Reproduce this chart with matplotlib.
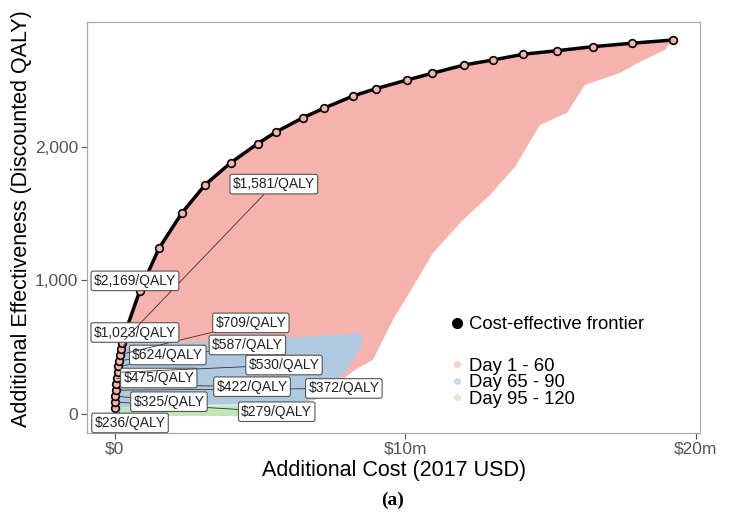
import matplotlib
matplotlib.use("Agg")
import matplotlib.pyplot as plt
from matplotlib.lines import Line2D

plt.rcParams['font.family'] = ['Liberation Sans', 'DejaVu Sans']

# cost-effective frontier ($m, QALY)
frontier_cost = [0.0, 0.01, 0.02, 0.035, 0.05, 0.07, 0.09, 0.11, 0.14, 0.17, 0.20, 0.23,
                 0.86, 1.52, 2.30, 3.10, 3.99, 4.91, 5.53, 6.48, 7.19, 8.20, 8.98, 10.07,
                 10.93, 12.03, 13.02, 14.06, 15.21, 16.44, 17.79, 19.20]
frontier_qaly = [47, 91, 136, 180, 224, 268, 313, 357, 401, 445, 490, 534,
                 924, 1241, 1502, 1714, 1880, 2022, 2108, 2217, 2287, 2379, 2433, 2499,
                 2549, 2611, 2648, 2691, 2717, 2747, 2773, 2797]

# outline of the simulated strategies cloud, by group
day1_cost = frontier_cost + [18.93, 18.07, 17.38, 16.18, 15.56, 14.63, 13.77, 12.91, 11.98,
                             10.95, 10.40, 9.57, 8.88, 8.26, 7.68, 7.06, 6.37, 0.10]
day1_qaly = frontier_qaly + [2723, 2633, 2551, 2461, 2252, 2162, 1848, 1639, 1452,
                             1206, 1004, 705, 406, 331, 234, 122, 85, 80]
day65_cost = [0.10, 2.24, 4.30, 6.37, 7.92, 8.50, 8.50, 8.09, 7.57, 6.88, 5.68, 2.93, 0.03]
day65_qaly = [534, 534, 556, 578, 600, 608, 518, 369, 219, 107, 77, 70, 47]
day95_cost = [0.03, 4.65, 6.02, 4.65, 0.03]
day95_qaly = [47, 70, 32, -13, -13]

# ICER labels
icer_text = ["$236/QALY", "$279/QALY", "$325/QALY", "$372/QALY", "$422/QALY", "$475/QALY",
             "$530/QALY", "$587/QALY", "$624/QALY", "$709/QALY", "$1,023/QALY",
             "$1,581/QALY", "$2,169/QALY"]
icer_x = [0.52, 5.57, 1.86, 7.88, 4.72, 1.51, 5.82, 4.56, 1.82, 4.68, 0.69, 5.47, 0.69]
icer_y = [-65, 19, 94, 193, 206, 271, 368, 518, 443, 683, 611, 1720, 997]
icer_point = [0, 1, 2, 3, 4, 5, 6, 7, 8, 9, 10, 11, 12]

pink = '#F6B3AE'
blue = '#AFC9E0'
green = '#C3E3B9'

fig = plt.figure(figsize=(7.33, 5.23), dpi=100)
ax = fig.add_axes([0.1183, 0.1721, 0.955 - 0.1183, 0.9585 - 0.1721])

ax.fill(day1_cost, day1_qaly, color=pink, lw=0, zorder=1)
ax.fill(day65_cost, day65_qaly, color=blue, lw=0, zorder=1.2)
ax.fill(day95_cost, day95_qaly, color=green, lw=0, zorder=1.4)

for i in range(len(icer_text)):
    p = icer_point[i]
    ax.annotate(icer_text[i], xy=(frontier_cost[p], frontier_qaly[p]),
                xytext=(icer_x[i], icer_y[i]), ha='center', va='center',
                fontsize=10, color='#222222', zorder=6,
                bbox=dict(boxstyle='round,pad=0.2,rounding_size=0.15', fc='white',
                          ec='#555555', lw=0.8),
                arrowprops=dict(arrowstyle='-', color='#333333', lw=0.6,
                                shrinkA=0, shrinkB=3))

ax.plot(frontier_cost, frontier_qaly, color='black', lw=2.5, zorder=3)
ax.plot(frontier_cost, frontier_qaly, 'o', ms=5.5, mfc=pink, mec='black', mew=1.2, zorder=4)

ax.set_xlim(-0.97, 20.14)
ax.set_ylim(-140, 2934)
ax.set_xticks([0, 10, 20])
ax.set_xticklabels(["$0", "$10m", "$20m"])
ax.set_yticks([0, 1000, 2000])
ax.set_yticklabels(["0", "1,000", "2,000"])
ax.tick_params(colors='#555555', labelsize=12.5, length=4, width=0.8, pad=2)
for s in ax.spines.values():
    s.set_color('#AAAAAA')
    s.set_linewidth(0.9)

ax.set_xlabel("Additional Cost (2017 USD)", fontsize=15.5, va='center')
ax.xaxis.set_label_coords(0.501, -0.090)
ax.set_ylabel("Additional Effectiveness (Discounted QALY)", fontsize=15.5, va='center')
ax.yaxis.set_label_coords(-0.106, 0.52)

h1 = [Line2D([], [], ls='', marker='o', ms=7, color='black')]
leg1 = ax.legend(h1, ["Cost-effective frontier"], loc='center left',
                 bbox_to_anchor=(0.562, 0.2635), frameon=False, fontsize=13.3,
                 handletextpad=0.15, handlelength=1.0)
ax.add_artist(leg1)
h2 = [Line2D([], [], ls='', marker='o', ms=4, color=c, alpha=0.6) for c in (pink, blue, green)]
ax.legend(h2, ["Day 1 - 60", "Day 65 - 90", "Day 95 - 120"], loc='center left',
          bbox_to_anchor=(0.562, 0.122), frameon=False, fontsize=13.3,
          handletextpad=0.15, handlelength=1.0, labelspacing=-0.03)

fig.text(0.536, 1 - 500 / 523, "(a)", ha='center', va='center', fontsize=14,
         family='Liberation Serif', fontweight='bold')

fig.savefig("out.png", dpi=100)
